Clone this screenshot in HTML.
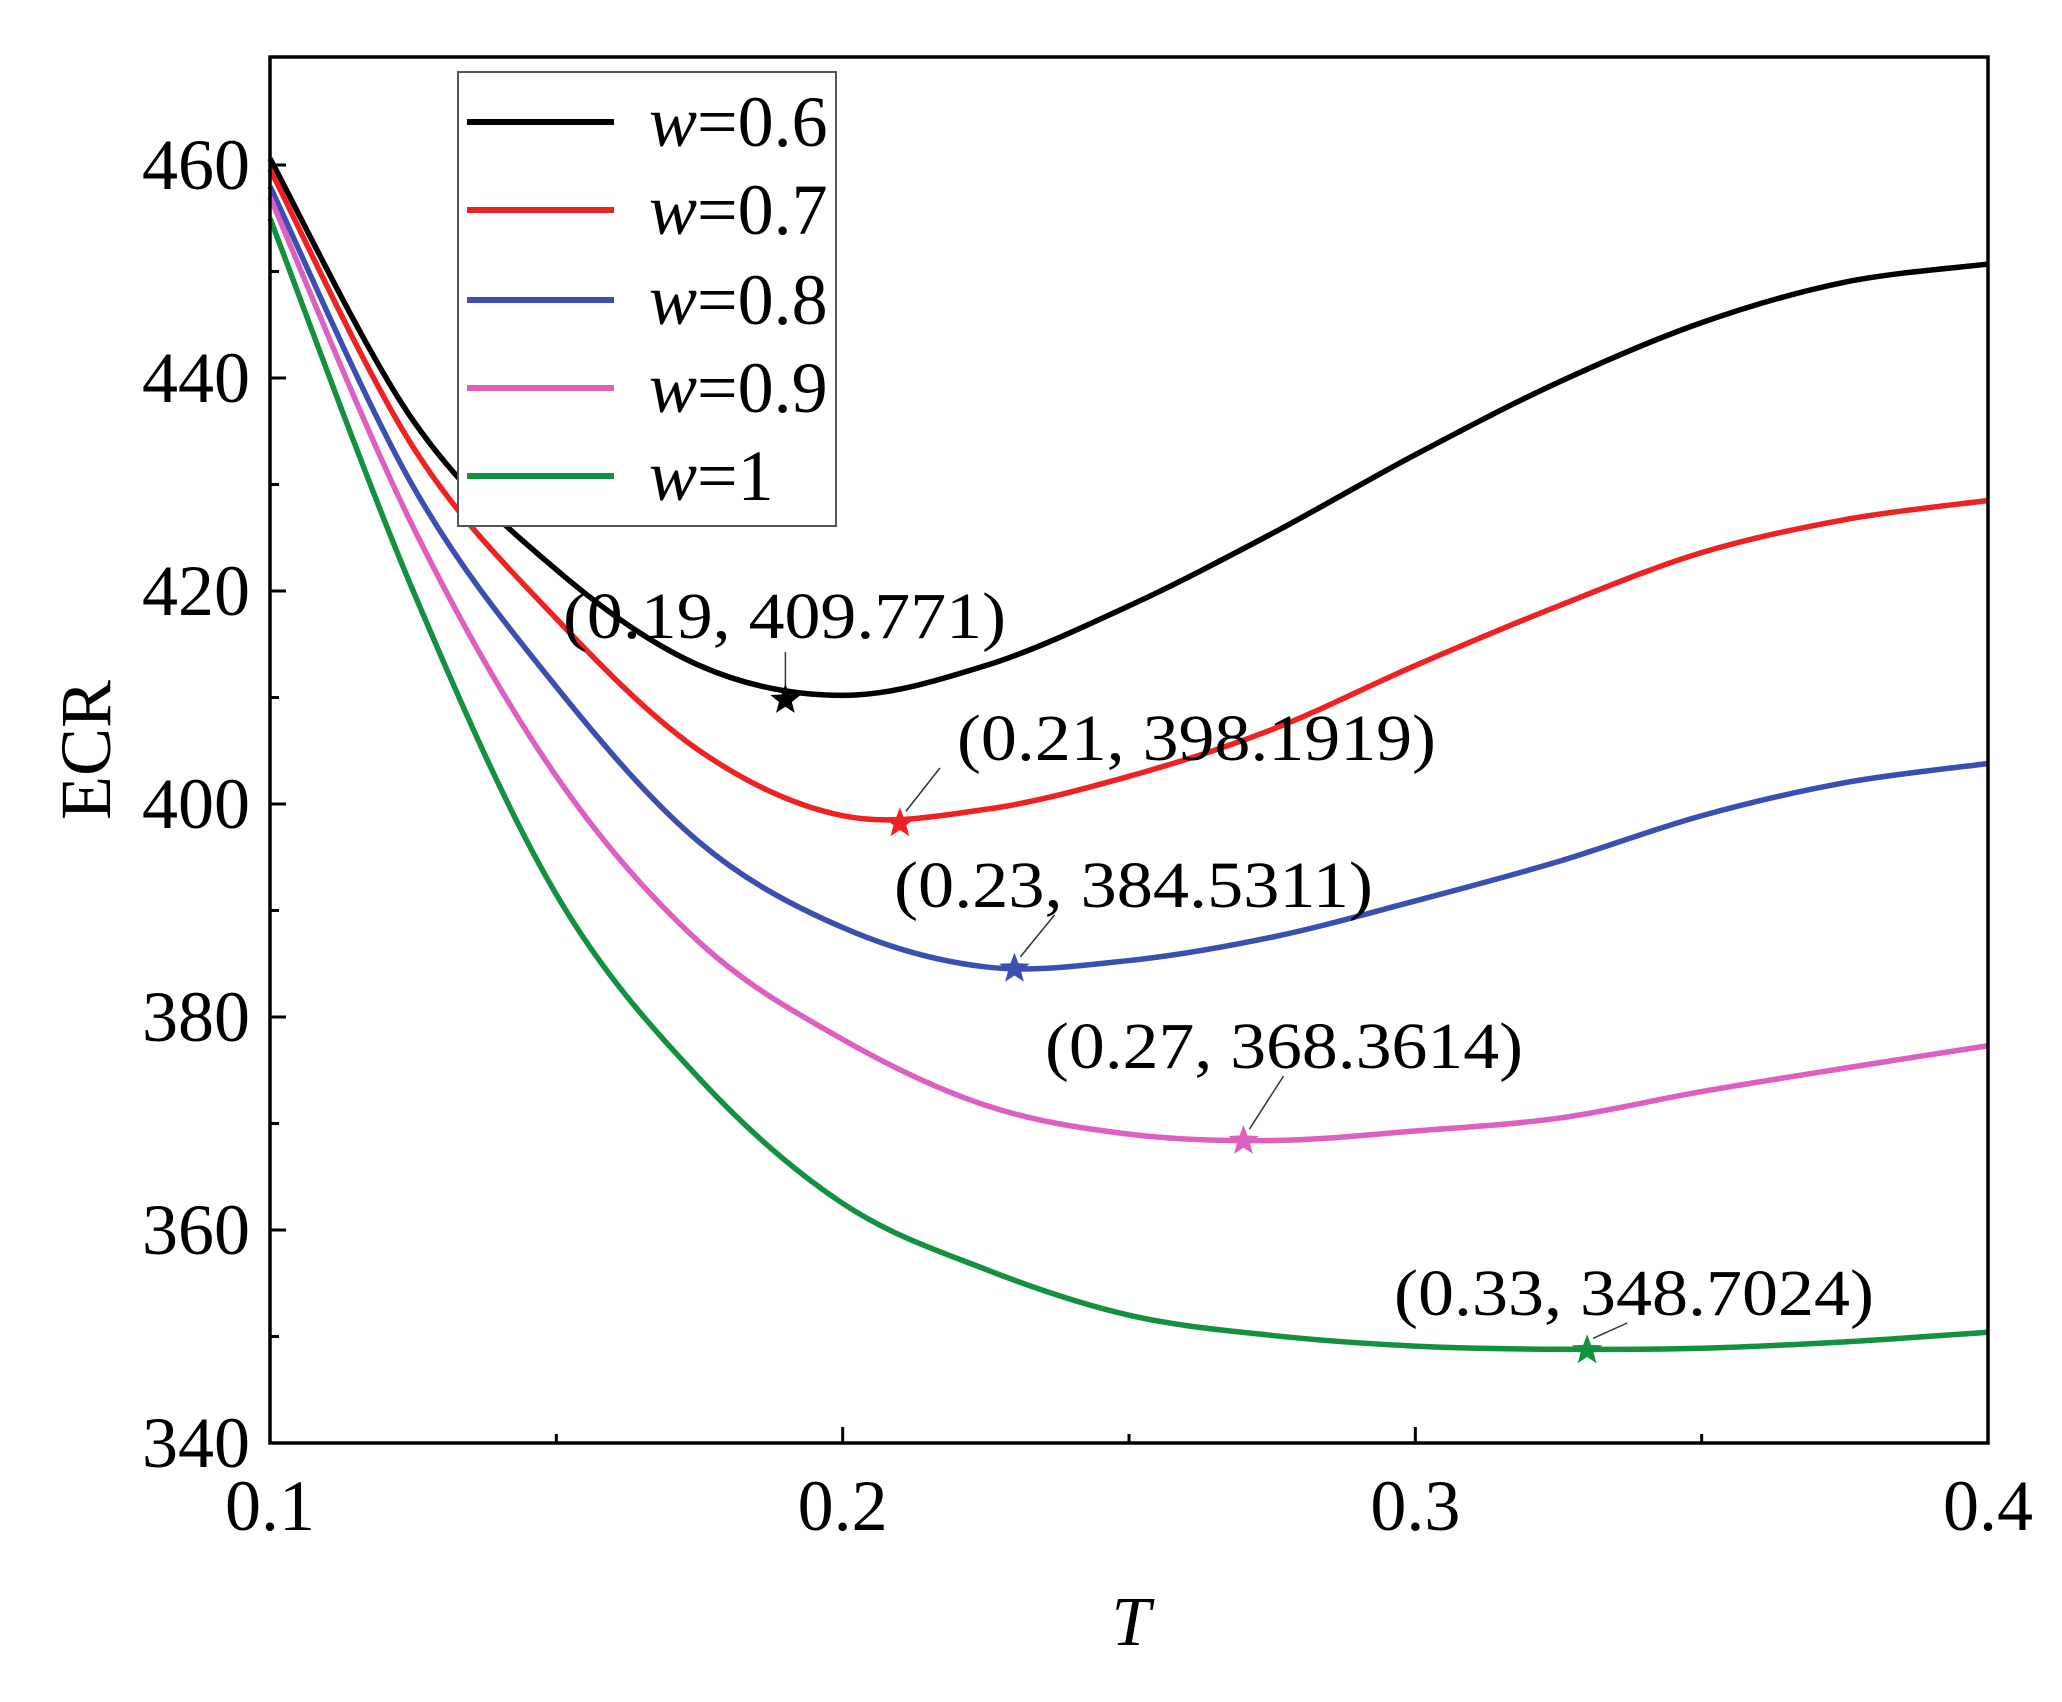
<!DOCTYPE html>
<html><head><meta charset="utf-8"><style>
html,body{margin:0;padding:0;background:#fff;}
svg text{font-family:"Liberation Serif",serif;}
</style></head><body>
<svg id="chart" width="2062" height="1697" viewBox="0 0 2062 1697" xmlns="http://www.w3.org/2000/svg">
<g id="plot"></g>
</svg>
<script>
const xs = [0.1,0.125,0.15,0.175,0.2,0.225,0.25,0.275,0.3,0.325,0.35,0.375,0.4];
const sBlack = [460.6,436,422,413,410.2,413,418.6,425.4,432.8,439.6,445.2,449,450.7];
const sRed = [459.6,433.5,417.4,405,398.9,399.5,402.6,407,413,418.6,423.6,426.7,428.5];
const sBlue = [458,429.8,411,396.4,388.4,384.7,385.3,387.5,390.9,394.6,398.9,402,403.8];
const sPink = [457,426,402.6,387,377.9,371.7,369,368.4,369.3,370.5,373,375.2,377.3];
const sGreen = [455,420,391.5,374.2,362.5,356.3,352,350.1,349.1,348.8,348.9,349.5,350.4];
const seriesNames = ["w=0.6","w=0.7","w=0.8","w=0.9","w=1"];
const seriesColors = ["#000000","#ee2222","#3a4fb0","#dd5fbf","#13913f"];
const minX = [0.19,0.21,0.23,0.27,0.33];
const minY = [409.771,398.1919,384.5311,368.3614,348.7024];
const minLabels = ["(0.19, 409.771)","(0.21, 398.1919)","(0.23, 384.5311)","(0.27, 368.3614)","(0.33, 348.7024)"];
const xTicks = [0.1,0.2,0.3,0.4];
const yTicks = [340,360,380,400,420,440,460];

const NS="http://www.w3.org/2000/svg";
const L=270,R=1988,T=57,B=1443;
const X=v=>L+(v-0.1)/0.3*(R-L);
const Y=v=>B-(v-340)/20*213;
const g=document.getElementById('plot');
function mk(tag,attrs,parent){const e=document.createElementNS(NS,tag);for(const k in attrs)e.setAttribute(k,attrs[k]);(parent||g).appendChild(e);return e;}
const all=[sBlack,sRed,sBlue,sPink,sGreen];

function pathFor(vals){
  const p=xs.map((x,i)=>[X(x),Y(vals[i])]);
  let d=`M${p[0][0]},${p[0][1]}`;
  for(let i=0;i<p.length-1;i++){
    const p0=p[i-1]||p[i],p1=p[i],p2=p[i+1],p3=p[i+2]||p[i+1];
    d+=` C${p1[0]+(p2[0]-p0[0])/6},${p1[1]+(p2[1]-p0[1])/6} ${p2[0]-(p3[0]-p1[0])/6},${p2[1]-(p3[1]-p1[1])/6} ${p2[0]},${p2[1]}`;
  }
  return d;
}
all.forEach((vals,i)=>{
  const c=mk('path',{d:pathFor(vals),fill:'none',stroke:seriesColors[i],'stroke-width':5.5});
  
  
});
function star(cx,cy,r,color){
  let pts=[];for(let k=0;k<10;k++){const a=-Math.PI/2+k*Math.PI/5;const rr=k%2?r*0.42:r;pts.push((cx+rr*Math.cos(a)).toFixed(1)+','+(cy+rr*Math.sin(a)).toFixed(1));}
  return mk('polygon',{points:pts.join(' '),fill:color});
}
const labelPos=[[563,638],[957,760],[894,907],[1045,1068],[1394,1315]];
const labelW=[443,479,479,478,480];
minX.forEach((mx,i)=>{
  const cx=X(mx),cy=Y(minY[i]);
  const [lx,ly]=labelPos[i];
  const ln=mk('line',{x1:cx+(i==0?0:6),y1:cy-12,x2:cx+(i==0?0:40),y2:ly+(i==0?14:8),stroke:'#333','stroke-width':1.5});
  
  
  const s=star(cx,cy,16,seriesColors[i]);
  
  
  const t=mk('text',{x:lx,y:ly,'font-size':66,textLength:labelW[i],lengthAdjust:'spacingAndGlyphs',fill:'#000'});
  t.textContent=minLabels[i];
  
  
});
const fr=mk('rect',{x:L,y:T,width:R-L,height:B-T,fill:'none',stroke:'#000','stroke-width':3.5});


xTicks.forEach(v=>{
  mk('line',{x1:X(v),y1:B,x2:X(v),y2:B-16,stroke:'#000','stroke-width':3});
  const t=mk('text',{x:X(v),y:1530,'font-size':72,'text-anchor':'middle'});t.textContent=v.toFixed(1);
  
  
});
[0.15,0.25,0.35].forEach(v=>mk('line',{x1:X(v),y1:B,x2:X(v),y2:B-9,stroke:'#000','stroke-width':3}));
yTicks.forEach(v=>{
  mk('line',{x1:L,y1:Y(v),x2:L+16,y2:Y(v),stroke:'#000','stroke-width':3});
  const t=mk('text',{x:250,y:Y(v)+24,'font-size':72,'text-anchor':'end'});t.textContent=v;
  
  
  if(v<460){mk('line',{x1:L,y1:Y(v+10),x2:L+9,y2:Y(v+10),stroke:'#000','stroke-width':3});}
});
const yt=mk('text',{x:0,y:0,'font-size':72,'text-anchor':'middle',transform:'translate(110,750) rotate(-90)'});yt.textContent='ECR';


const xt=mk('text',{x:1131,y:1645,'font-size':70,'text-anchor':'middle','font-style':'italic'});xt.textContent='T';


const lg=mk('g',{});


mk('rect',{x:458,y:72,width:378,height:454,fill:'#fff',stroke:'#555','stroke-width':2},lg);
const ly0=[122,210,300,388,476];
seriesNames.forEach((n,i)=>{
  const e=mk('g',{},lg);
  
  
  mk('line',{x1:467,y1:ly0[i],x2:614,y2:ly0[i],stroke:seriesColors[i],'stroke-width':6},e);
  const t=mk('text',{x:649,y:ly0[i]+24,'font-size':72},e);
  t.innerHTML='<tspan font-style="italic">w</tspan>'+n.slice(1);
});
</script>
</body></html>
